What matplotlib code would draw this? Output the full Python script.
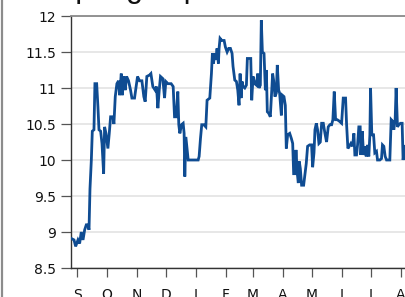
import matplotlib
matplotlib.use("Agg")
import matplotlib.pyplot as plt
from matplotlib.lines import Line2D

plt.rcParams['font.family'] = ['DejaVu Sans']

# Days since September 1 and the plotted value
days = [-6.4, -3.6, -1.9, 0.5, 2.2, 3.9, 5.7, 7.4, 9.1, 10.8, 11.9, 12.9, 14.3, 15.3, 17.0,
        18.0, 19.8, 21.1, 22.2, 23.9, 25.3, 27.0, 28.0, 29.4, 31.4, 32.8, 34.2, 36.6, 37.6,
        39.0, 40.7, 42.4, 43.5, 45.2, 46.2, 47.9, 49.3, 50.7, 52.7, 54.8, 56.2, 58.9, 62.0,
        64.1, 66.5, 68.5, 69.9, 71.6, 74.4, 75.8, 77.8, 80.2, 81.6, 83.0, 84.4, 85.7, 88.1,
        89.9, 91.2, 93.3, 96.7, 98.8, 100.2, 101.9, 103.6, 104.6, 105.7,
        107.4, 109.1, 110.1, 110.8, 111.9, 114.3, 116.0, 124.6, 125.6, 127.0, 128.3, 130.4,
        132.5, 133.8, 136.6, 138.3, 139.3, 140.4, 141.7, 142.8, 144.1, 145.5, 146.2, 147.2,
        149.0, 151.4, 152.7, 154.5, 156.2, 157.9, 159.6, 160.6, 162.4, 164.1, 165.5, 166.8,
        167.9, 168.9, 169.9, 171.0, 172.7, 174.4, 175.4, 177.1, 178.9, 179.9, 181.3, 183.0,
        184.7, 186.1, 187.4, 188.8, 189.8, 190.9, 192.6, 194.0, 195.0, 196.0, 197.4, 199.1,
        200.5, 201.5, 202.6, 203.9, 205.3, 206.3, 207.7, 208.7, 210.5, 211.5, 213.2, 214.6,
        215.6, 217.0, 219.1, 220.8,
        222.2, 223.2, 224.6, 225.6, 227.0, 228.0, 229.0, 230.1, 231.4, 233.5, 234.9, 236.2,
        237.6, 239.7, 241.7, 242.8, 244.2, 245.2, 246.6, 247.9, 249.3, 250.7, 252.1, 253.8,
        255.5, 257.2, 258.9, 260.6, 262.4, 263.7, 265.1, 266.5, 268.2, 270.3, 272.7, 274.4,
        276.8, 277.8, 279.2, 280.6, 282.3, 284.0, 285.4, 286.4, 288.1, 289.2, 290.5, 291.9,
        292.6, 294.0, 295.4, 296.7, 298.1, 299.5, 300.8, 301.9, 302.6, 303.9, 305.7, 307.0,
        308.7, 309.8, 312.2, 313.9, 314.9, 316.3, 317.7, 319.1, 322.5, 323.9, 325.2, 326.6,
        328.0, 329.0, 330.4, 331.8, 333.5, 335.2, 336.2, 337.9]

values = [8.91, 8.89, 8.80, 8.89, 8.84, 9.00, 8.89, 9.03, 9.10, 9.10, 9.03, 9.60, 10.00, 10.40, 10.42,
          11.06, 11.06, 10.74, 10.42, 10.40, 10.23, 9.81, 10.46, 10.37, 10.16, 10.37, 10.60, 10.60, 10.50,
          10.88, 11.06, 11.10, 10.90, 11.20, 10.90, 11.16, 10.97, 11.16, 11.10, 10.97, 10.86, 10.86, 11.16,
          11.10, 11.10, 10.88, 10.81, 11.16, 11.18, 11.20, 11.02, 10.97, 11.02, 10.72, 10.97, 11.16, 11.13,
          10.86, 11.09, 11.06, 11.06, 11.02, 10.60, 10.60, 10.95, 10.49, 10.37,
          10.49, 10.51, 10.37, 9.77, 10.32, 10.00, 10.00, 10.00, 10.05, 10.30, 10.49, 10.49,
          10.46, 10.83, 10.86, 11.20, 11.48, 11.34, 11.48, 11.39, 11.55, 11.34, 11.55, 11.69,
          11.66, 11.66, 11.57, 11.50, 11.55, 11.55, 11.48, 11.30, 11.11, 11.09, 10.97, 10.76,
          11.20, 10.86, 11.09, 11.02, 11.00, 11.04, 11.41, 11.41, 11.41, 10.83, 11.16, 11.06,
          11.04, 11.20, 11.00, 11.04, 11.94, 11.50, 11.48, 10.97, 11.25, 10.67, 10.65, 10.60,
          10.95, 11.20, 11.10, 10.88, 10.93, 11.32, 10.97, 10.93, 10.62, 10.90, 10.88, 10.76,
          10.16, 10.35, 10.37, 10.30,
          10.23, 9.81, 9.81, 10.14, 9.81, 9.68, 9.98, 9.88, 9.65, 9.65, 9.81, 9.95,
          10.19, 10.21, 10.21, 9.90, 10.10, 10.42, 10.51, 10.42, 10.23, 10.25, 10.51, 10.51,
          10.37, 10.25, 10.46, 10.49, 10.49, 10.56, 10.95, 10.56, 10.56, 10.54, 10.51, 10.86,
          10.86, 10.51, 10.16, 10.19, 10.23, 10.19, 10.37, 10.07, 10.07, 10.21, 10.46, 10.46,
          10.07, 10.40, 10.07, 10.19, 10.05, 10.21, 10.05, 10.35, 11.00, 10.35, 10.35, 10.10,
          10.12, 10.00, 10.00, 10.02, 10.21, 10.19, 10.05, 10.00, 10.00, 10.56, 10.54, 10.42,
          10.56, 11.00, 10.46, 10.49, 10.51, 10.51, 10.00, 10.19]

month_starts = [0, 30, 61, 91, 122, 153, 181, 212, 242, 273, 303, 334]
month_labels = ['S', 'O', 'N', 'D', 'J', 'F', 'M', 'A', 'M', 'J', 'J', 'A']
y_ticks = [8.5, 9, 9.5, 10, 10.5, 11, 11.5, 12]
y_labels = ['8.5', '9', '9.5', '10', '10.5', '11', '11.5', '12']

W, H = 406, 297
fig = plt.figure(figsize=(W / 100, H / 100), dpi=100)
ax = fig.add_axes([71 / W, (H - 268) / H, 1 - 71 / W, (268 - 16) / H])

ax.plot(days, values, color='#0f4c92', linewidth=2.0, solid_joinstyle='miter', zorder=3)

ax.set_xlim(-6.7, 339.2)
ax.set_ylim(8.5, 12)
ax.set_yticks(y_ticks)
ax.set_yticklabels(y_labels)
ax.set_xticks(month_starts)
ax.set_xticklabels(month_labels)

ax.grid(axis='y', color='#e3e3e3', linewidth=1.2, zorder=0)
ax.grid(axis='x', visible=False)

ax.spines['right'].set_visible(False)
ax.spines['top'].set_color('#8a8a8a')
ax.spines['top'].set_linewidth(1.3)
ax.spines['left'].set_color('#333333')
ax.spines['bottom'].set_color('#333333')
ax.spines['left'].set_linewidth(1.0)
ax.spines['bottom'].set_linewidth(1.0)

ax.tick_params(axis='y', length=7.2, width=0.9, color='#555555', pad=3.5,
               labelsize=10, labelcolor='#111111')
ax.tick_params(axis='x', length=6.5, width=0.9, color='#555555', pad=8,
               labelsize=10, labelcolor='#111111')

# left border of the panel
fig.add_artist(Line2D([2.5 / W, 2.5 / W], [0, 1], color='#8c8c8c', linewidth=1.6))

# title, mostly above the visible area (only descenders show)
fig.text(55 / W, 1 + 3 / H, 'Spot gas price', fontsize=22, color='#111111',
         family='Liberation Sans', ha='left', va='baseline')

fig.savefig('out.png', dpi=100)
